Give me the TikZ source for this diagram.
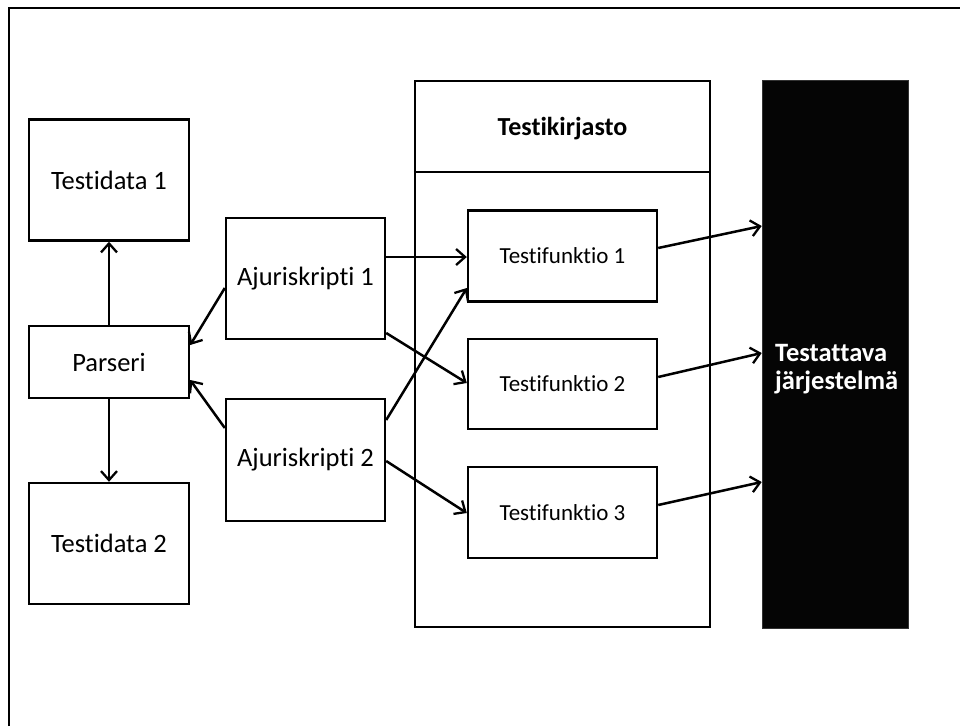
\documentclass[tikz,border=0pt]{standalone}
\usepackage{fontspec}
\setmainfont{Carlito}[Ligatures={NoCommon,NoRare}]
\usetikzlibrary{arrows.meta,calc}
\tikzset{
  box/.style={draw, line width=2.4pt, inner sep=0pt, fill=white},
  lbl/.style={font=\fontsize{26.5}{31}\selectfont},
  flbl/.style={font=\fontsize{23}{28}\selectfont},
  conn/.style={line width=2.5pt, -{Straight Barb[length=9pt,width=16pt,line width=2.3pt]}},
}
\begin{document}
\begin{tikzpicture}[x=1pt,y=-1pt]
\useasboundingbox (0,0) rectangle (960,726);
% frame
\draw[line width=2pt] (9,726) -- (9,7.5) -- (960,7.5);
% left column
\node[box, lbl, minimum width=160, minimum height=121] (td1) at (109,180) {Testidata 1};
\node[box, lbl, minimum width=160, minimum height=72] (par) at (109,362) {Parseri};
\node[box, lbl, minimum width=160, minimum height=121] (td2) at (109,543.5) {Testidata 2};
% drivers
\node[box, lbl, minimum width=159, minimum height=121] (a1) at (305.5,278.5) {Ajuriskripti 1};
\node[box, lbl, minimum width=159, minimum height=122] (a2) at (305.5,460) {Ajuriskripti 2};
% library
\node[box, minimum width=295, minimum height=546] (lib) at (562.5,354) {};
\draw[line width=2.4pt] (lib.west |- 0,172) -- (lib.east |- 0,172);
\node[font=\fontsize{26}{31}\selectfont\bfseries] (libt) at (562.5,129) {Testikirjasto};
\node[box, flbl, minimum width=189, minimum height=91] (tf1) at (562.5,256) {Testifunktio 1};
\node[box, flbl, minimum width=189, minimum height=90] (tf2) at (562.5,384) {Testifunktio 2};
\node[box, flbl, minimum width=189, minimum height=91] (tf3) at (562.5,512.5) {Testifunktio 3};
% system
\node[fill=black!98, draw=black!80, line width=0.6pt, inner sep=0pt, minimum width=146, minimum height=548] (sys) at (835,354) {};
\node[font=\fontsize{26.5}{27.5}\selectfont\bfseries, text=white, align=left, anchor=west, inner sep=0pt] (syst) at (775,369) {Testattava\\järjestelmä};
% connectors
\draw[conn] (par.north) -- (td1.south);
\draw[conn] (par.south) -- (td2.north);
\draw[conn] ($(a1.west)+(0,9.5)$) -- ($(par.east)+(0,-17)$);
\draw[conn] ($(a2.west)+(0,-32)$) -- ($(par.east)+(0,18)$);
\draw[conn] ($(a1.east)+(0,-21.5)$) -- ($(tf1.west)+(0,1)$);
\draw[conn] ($(a1.east)+(0,54.5)$) -- ($(tf2.west)+(0,-1)$);
\draw[conn] ($(a2.east)+(0,-40)$) -- ($(tf1.west)+(0,32)$);
\draw[conn] ($(a2.east)+(0,1)$) -- ($(tf3.west)+(0,0.5)$);
\draw[conn] ($(tf1.east)+(0,-8)$) -- ($(sys.west)+(0,-128)$);
\draw[conn] ($(tf2.east)+(0,-7)$) -- ($(sys.west)+(0,-1)$);
\draw[conn] ($(tf3.east)+(0,-7.5)$) -- ($(sys.west)+(0,128)$);
\end{tikzpicture}
\end{document}
